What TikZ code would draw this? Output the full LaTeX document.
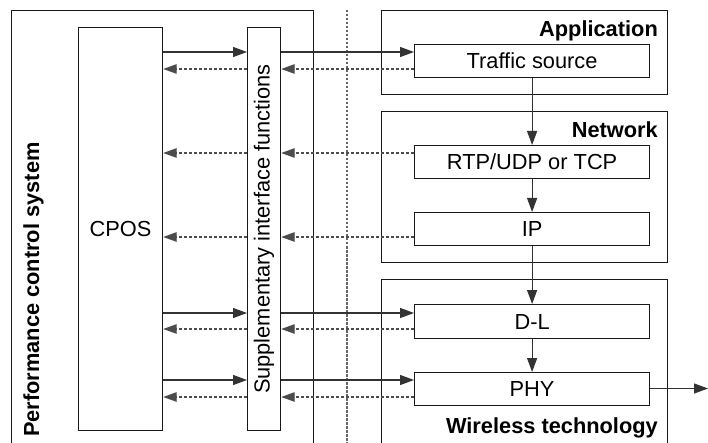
\documentclass[tikz,border=0pt]{standalone}
\usepackage{fontspec}
\setmainfont{Liberation Sans}
\usetikzlibrary{arrows.meta}
\begin{document}
\begin{tikzpicture}[x=1pt,y=-1pt,
  font=\fontsize{21.8}{26}\selectfont,
  box/.style={draw=black!90, line width=1.2pt, inner sep=0pt, anchor=north west},
  layer/.style={box},
  lbl/.style={font=\fontsize{21.8}{26}\selectfont\bfseries, inner sep=0pt},
  sol/.style={draw=black!80, line width=1.2pt, -{Triangle[length=14pt,width=10pt]}},
  dsh/.style={draw=black!70, line width=1.2pt, dash pattern=on 3pt off 2pt, -{Triangle[length=13.5pt,width=9.5pt]}},
  plain/.style={draw=black!80, line width=1.2pt}
]
\clip (0,0) rectangle (708,443);
\fill[white] (0,0) rectangle (708,443);

% left side
\node[box, minimum width=302pt, minimum height=470pt] (pcs) at (11,10) {};
\node[lbl, rotate=90, anchor=base west] (pcslbl) at (39,437) {Performance control system};
\node[box, minimum width=84pt, minimum height=403pt] (cpos) at (78,27) {};
\node (cposlbl) at (cpos.center) {CPOS};
\node[box, minimum width=33pt, minimum height=403pt] (sif) at (247,27) {};
\node[rotate=90] (siflbl) at (sif.center) {Supplementary interface functions};

% separator
\coordinate (septop) at (347,10);
\coordinate (sepbot) at (347,450);
\draw[draw=black!60, line width=1.2pt, dash pattern=on 2.5pt off 1.5pt] (septop) -- (sepbot);

% right side layers
\node[layer, minimum width=286pt, minimum height=84pt] (app) at (381,10) {};
\node[lbl, anchor=base east] (applbl) at (658,37) {Application};
\node[box, minimum width=235pt, minimum height=33pt] (ts) at (414,44) {};
\node (tslbl) at (ts.center) {Traffic source};

\node[layer, minimum width=286pt, minimum height=151pt] (net) at (381,111) {};
\node[lbl, anchor=base east] (netlbl) at (658,138) {Network};
\node[box, minimum width=235pt, minimum height=33pt] (rtp) at (414,145) {};
\node (rtplbl) at (rtp.center) {RTP/UDP or TCP};
\node[box, minimum width=235pt, minimum height=33pt] (ip) at (414,212) {};
\node (iplbl) at (ip.center) {IP};

\node[layer, minimum width=286pt, minimum height=200pt] (wl) at (381,279) {};
\node[lbl, anchor=base east] (wllbl) at (658,433) {Wireless technology};
\node[box, minimum width=235pt, minimum height=34pt] (dl) at (414,304) {};
\node (dllbl) at (dl.center) {D-L};
\node[box, minimum width=235pt, minimum height=33pt] (phy) at (414,372) {};
\node (phylbl) at (phy.center) {PHY};

% row heights
\coordinate (r1s) at (0,52);
\coordinate (r1d) at (0,69);
\coordinate (r2d) at (0,153);
\coordinate (r3d) at (0,237);
\coordinate (r4s) at (0,313);
\coordinate (r4d) at (0,329);
\coordinate (r5s) at (0,380);
\coordinate (r5d) at (0,397);
\coordinate (out) at (708,388.5);

% horizontal connectors
\draw[sol] (cpos.east |- r1s) -- (sif.west |- r1s);
\draw[sol] (sif.east |- r1s) -- (ts.west |- r1s);
\draw[dsh] (ts.west |- r1d) -- (sif.east |- r1d);
\draw[dsh] (sif.west |- r1d) -- (cpos.east |- r1d);

\draw[dsh] (rtp.west |- r2d) -- (sif.east |- r2d);
\draw[dsh] (sif.west |- r2d) -- (cpos.east |- r2d);

\draw[dsh] (ip.west |- r3d) -- (sif.east |- r3d);
\draw[dsh] (sif.west |- r3d) -- (cpos.east |- r3d);

\draw[sol] (cpos.east |- r4s) -- (sif.west |- r4s);
\draw[sol] (sif.east |- r4s) -- (dl.west |- r4s);
\draw[dsh] (dl.west |- r4d) -- (sif.east |- r4d);
\draw[dsh] (sif.west |- r4d) -- (cpos.east |- r4d);

\draw[sol] (cpos.east |- r5s) -- (sif.west |- r5s);
\draw[sol] (sif.east |- r5s) -- (phy.west |- r5s);
\draw[dsh] (phy.west |- r5d) -- (sif.east |- r5d);
\draw[dsh] (sif.west |- r5d) -- (cpos.east |- r5d);

% vertical stack
\draw[sol] (ts.south) -- (rtp.north);
\draw[sol] (rtp.south) -- (ip.north);
\draw[sol] (ip.south) -- (dl.north);
\draw[sol] (dl.south) -- (phy.north);
\draw[sol] (phy.east |- out) -- (out);
\end{tikzpicture}
\end{document}
